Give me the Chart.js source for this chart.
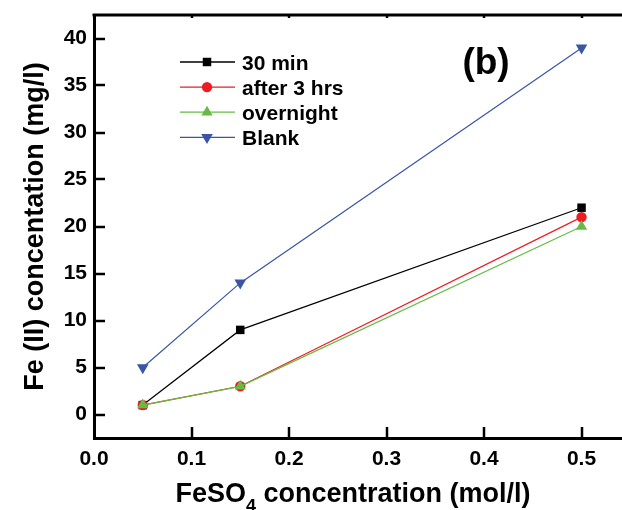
<!DOCTYPE html>
<html>
<head>
<meta charset="utf-8">
<title>Fe(II) concentration vs FeSO4 concentration</title>
<script src="https://cdn.jsdelivr.net/npm/chart.js@4.4.1/dist/chart.umd.min.js"></script>
<style>
    html, body { margin: 0; padding: 0; background: #fff; overflow: hidden; }
    #wrap { width: 622px; height: 510px; }
</style>
</head>
<body>
<div id="wrap"><canvas id="feChart" width="622" height="510"></canvas></div>
<script>
// data
const feso4 = [0.05, 0.15, 0.5];
const min30 = [1, 9, 22];
const after3hrs = [1, 3, 21];
const overnight = [1, 3, 20];
const blank = [5, 14, 39];
const seriesNames = ['30 min', 'after 3 hrs', 'overnight', 'Blank'];
const xTickValues = [0, 0.05, 0.1, 0.15, 0.2, 0.25, 0.3, 0.35, 0.4, 0.45, 0.5];
const yTickValues = [0, 2.5, 5, 7.5, 10, 12.5, 15, 17.5, 20, 22.5, 25, 27.5, 30, 32.5, 35, 37.5, 40];
const panelLabel = '(b)';
const xTitleParts = ['FeSO', '4', ' concentration (mol/l)'];
const yTitle = 'Fe (II) concentation (mg/l)';

const FONT = "'Liberation Sans', Arial, Helvetica, sans-serif";
Chart.defaults.font.family = FONT;
Chart.defaults.color = '#000';

function toPoints(ys) {
    return feso4.map((x, i) => ({ x, y: ys[i] }));
}

function isStep(v, step) {
    const q = v / step;
    return Math.abs(q - Math.round(q)) < 1e-6;
}

function series(label, ys, color, style, radius, rotation, order) {
    return {
        label,
        data: toPoints(ys),
        borderColor: color,
        backgroundColor: color,
        borderWidth: 1.2,
        pointStyle: style,
        pointRadius: radius,
        pointRotation: rotation,
        pointBorderWidth: 0,
        pointBackgroundColor: color,
        tension: 0,
        order,
        clip: false
    };
}

// inward ticks + top frame line
const frame = {
    id: 'frame',
    afterDatasetsDraw(chart) {
        const { ctx, chartArea: a, scales: { x, y } } = chart;
        ctx.save();
        ctx.strokeStyle = '#000';
        ctx.lineWidth = 3;
        ctx.beginPath();
        ctx.moveTo(a.left - 1.5, a.top);
        ctx.lineTo(a.right + 2, a.top);
        ctx.stroke();

        ctx.lineWidth = 2.5;
        x.ticks.forEach(t => {
            if (t.value <= x.min + 1e-9 || t.value >= x.max - 1e-9) return;
            const px = Math.round(x.getPixelForValue(t.value));
            const len = isStep(t.value, 0.1) ? 11 : 6;
            ctx.beginPath();
            ctx.moveTo(px, a.bottom);
            ctx.lineTo(px, a.bottom - len);
            ctx.stroke();
            ctx.beginPath();
            ctx.moveTo(px, a.top);
            ctx.lineTo(px, a.top + 3);
            ctx.stroke();
        });
        y.ticks.forEach(t => {
            if (t.value <= y.min + 1e-9 || t.value >= y.max - 1e-9) return;
            const py = Math.round(y.getPixelForValue(t.value));
            const len = isStep(t.value, 5) ? 11 : 6;
            ctx.beginPath();
            ctx.moveTo(a.left, py);
            ctx.lineTo(a.left + len, py);
            ctx.stroke();
        });
        ctx.restore();
    }
};

// legend with line through marker, panel label, x title with subscript
const annotations = {
    id: 'annotations',
    afterDraw(chart) {
        const { ctx } = chart;
        ctx.save();

        // legend
        const rowY0 = 62, rowGap = 25.1;
        const lineX0 = 180, lineX1 = 235, markX = 207, textX = 242;
        ctx.font = `bold 21px ${FONT}`;
        ctx.textAlign = 'left';
        ctx.textBaseline = 'alphabetic';
        chart.data.datasets.forEach((ds, i) => {
            const ry = rowY0 + i * rowGap;
            ctx.strokeStyle = ds.borderColor;
            ctx.lineWidth = 1.3;
            ctx.beginPath();
            ctx.moveTo(lineX0, ry);
            ctx.lineTo(lineX1, ry);
            ctx.stroke();
            ctx.fillStyle = ds.pointBackgroundColor;
            Chart.helpers.drawPoint(ctx, {
                pointStyle: ds.pointStyle,
                radius: ds.pointRadius,
                rotation: ds.pointRotation,
                borderWidth: 0
            }, markX, ry);
            ctx.fillStyle = '#000';
            ctx.fillText(ds.label, textX, ry + 7.5);
        });

        // panel label
        ctx.font = `bold 37px ${FONT}`;
        ctx.textAlign = 'center';
        ctx.fillText(panelLabel, 486, 74);

        // x axis title with subscript
        const mainFont = `bold 27px ${FONT}`;
        const subFont = `bold 18px ${FONT}`;
        ctx.textAlign = 'left';
        ctx.font = mainFont;
        const w0 = ctx.measureText(xTitleParts[0]).width;
        const w2 = ctx.measureText(xTitleParts[2]).width;
        ctx.font = subFont;
        const w1 = ctx.measureText(xTitleParts[1]).width;
        let tx = 353 - (w0 + w1 + w2) / 2;
        const base = 502;
        ctx.font = mainFont;
        ctx.fillText(xTitleParts[0], tx, base);
        tx += w0;
        ctx.font = subFont;
        ctx.fillText(xTitleParts[1], tx, base + 10);
        tx += w1;
        ctx.font = mainFont;
        ctx.fillText(xTitleParts[2], tx, base);

        ctx.restore();
    }
};

window.onload = () => {
    const ctx = document.getElementById('feChart').getContext('2d');
    new Chart(ctx, {
        type: 'line',
        data: {
            datasets: [
                series(seriesNames[0], min30, '#000000', 'rect', 6, 0, 2),
                series(seriesNames[1], after3hrs, '#ed1c24', 'circle', 5.2, 0, 1),
                series(seriesNames[2], overnight, '#66bb44', 'triangle', 6.5, 0, 0),
                series(seriesNames[3], blank, '#3a55a6', 'triangle', 6.7, 180, 3)
            ]
        },
        options: {
            responsive: false,
            devicePixelRatio: 1,
            animation: false,
            layout: { autoPadding: false, padding: { top: 15, right: 0, left: 0, bottom: 0 } },
            plugins: {
                legend: { display: false },
                tooltip: { enabled: false }
            },
            scales: {
                x: {
                    type: 'linear',
                    min: 0,
                    max: 0.5415,
                    grid: { display: false, drawTicks: false },
                    border: { display: true, color: '#000', width: 3 },
                    afterBuildTicks: s => { s.ticks = xTickValues.map(value => ({ value })); },
                    ticks: {
                        padding: 9,
                        maxRotation: 0,
                        autoSkip: false,
                        font: { size: 21, weight: 'bold' },
                        callback: v => isStep(v, 0.1) ? v.toFixed(1) : null
                    },
                    afterFit: s => { s.height = 72; s.paddingLeft = 0; s.paddingRight = 0; }
                },
                y: {
                    min: -2.5,
                    max: 42.5,
                    grid: { display: false, drawTicks: false },
                    border: { display: true, color: '#000', width: 3 },
                    afterBuildTicks: s => { s.ticks = yTickValues.map(value => ({ value })); },
                    ticks: {
                        padding: 7,
                        autoSkip: false,
                        font: { size: 21, weight: 'bold' },
                        callback: v => isStep(v, 5) ? String(v) : null
                    },
                    title: {
                        display: true,
                        text: yTitle,
                        font: { size: 27, weight: 'bold' },
                        padding: { top: 19, bottom: 0 }
                    },
                    afterFit: s => { s.width = 94; s.paddingTop = 0; s.paddingBottom = 0; }
                }
            }
        },
        plugins: [frame, annotations]
    });
};
</script>
</body>
</html>
